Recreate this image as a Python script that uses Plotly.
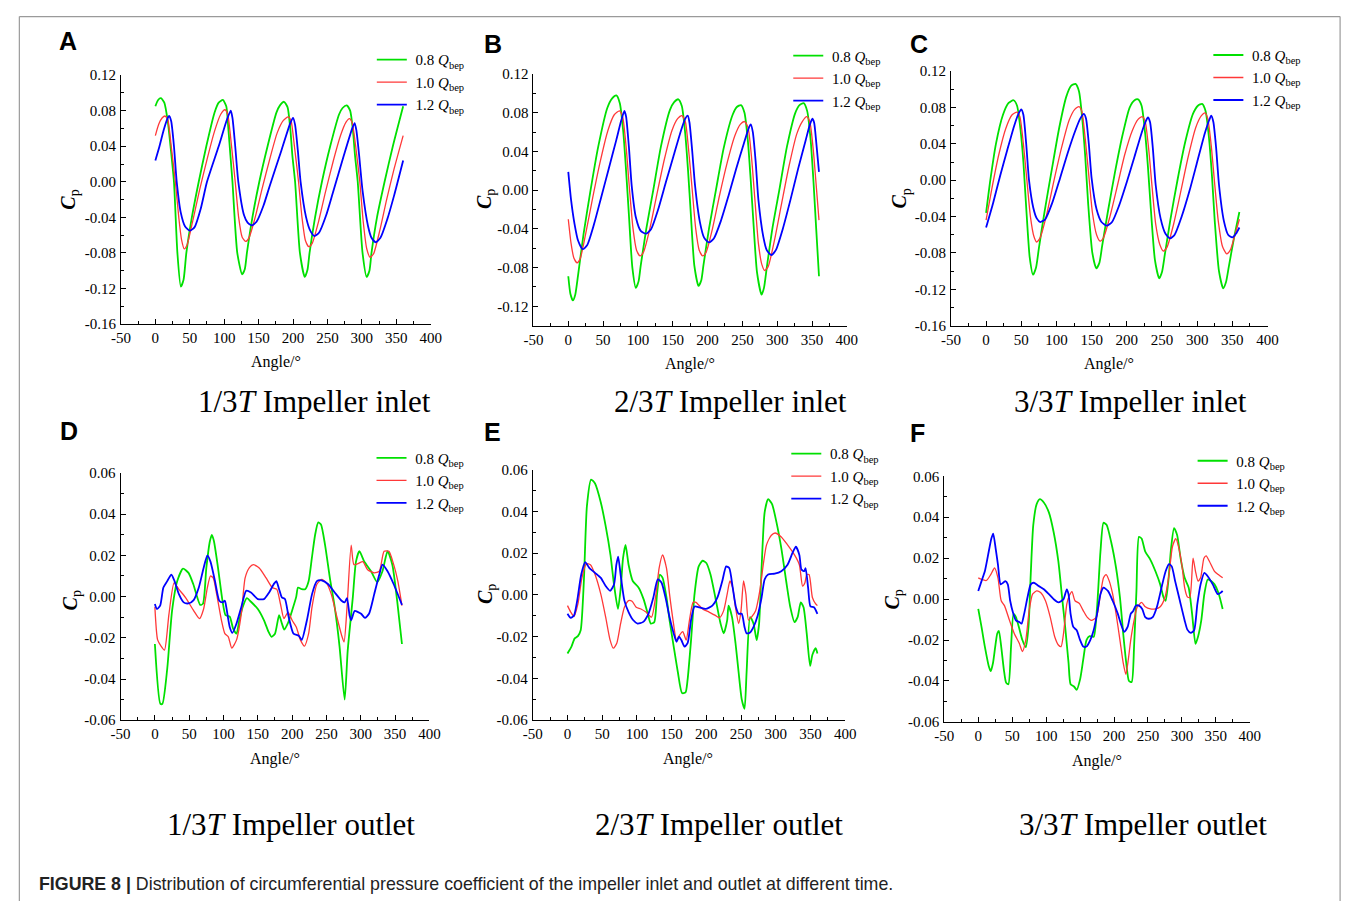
import plotly.graph_objects as go

W, H = 1357, 909

# ---------------- data ----------------
# Panel A : 1/3T impeller inlet
A_x_08 = [0,4,8,13,18,22,27,32,37,41,45,53,63,74,86,92,98,103,106,109,112,119,126,130,133,141,151,163,176,181,187,192,196,199,203,210,217,221,224,232,242,254,267,272,278,283,287,290,294,301,307,311,314,322,333,345,360]
A_y_08 = [0.085,0.092,0.094,0.089,0.068,0.040,0.000,-0.080,-0.118,-0.110,-0.080,-0.040,0.000,0.040,0.078,0.089,0.092,0.085,0.060,0.030,0.000,-0.080,-0.104,-0.098,-0.080,-0.040,0.000,0.040,0.078,0.086,0.090,0.084,0.060,0.030,0.000,-0.080,-0.107,-0.099,-0.080,-0.040,0.000,0.040,0.076,0.083,0.086,0.080,0.058,0.030,0.000,-0.080,-0.107,-0.100,-0.080,-0.040,0.000,0.040,0.085]
A_x_10 = [0,5,10,14,18,23,29,34,38,42,46,54,64,75,86,95,101,105,110,116,121,126,131,136,145,155,166,177,186,193,197,202,208,213,218,223,228,237,247,258,269,277,282,286,291,297,302,307,312,317,326,336,347,360]
A_y_10 = [0.052,0.065,0.072,0.074,0.070,0.040,0.000,-0.040,-0.065,-0.0755,-0.071,-0.045,-0.010,0.025,0.057,0.076,0.081,0.076,0.045,0.000,-0.040,-0.062,-0.067,-0.063,-0.040,-0.008,0.025,0.055,0.069,0.073,0.069,0.040,0.000,-0.040,-0.066,-0.073,-0.069,-0.045,-0.012,0.022,0.052,0.067,0.071,0.066,0.040,0.000,-0.045,-0.075,-0.085,-0.081,-0.055,-0.020,0.015,0.052]
A_x_12 = [0,6,12,17,20,23,27,31,37,43,50,57,66,75,92,104,109.5,112,116,120.5,129,134,140,147,157,166,183,196,200,203,207,211,219,225,231,238,248,258,274,286,289.5,292,296,301,309,314,320,327,337,347,360]
A_y_12 = [0.024,0.040,0.058,0.070,0.074,0.068,0.040,0.000,-0.035,-0.050,-0.055,-0.051,-0.030,0.000,0.040,0.070,0.080,0.072,0.040,0.000,-0.038,-0.046,-0.049,-0.045,-0.027,-0.005,0.035,0.066,0.072,0.064,0.035,0.000,-0.040,-0.055,-0.061,-0.057,-0.038,-0.012,0.030,0.060,0.066,0.058,0.030,-0.010,-0.050,-0.063,-0.068,-0.063,-0.042,-0.015,0.024]

# Panel B : 2/3T impeller inlet
B_x_08 = [0,3,6.6,10,14,22,32,43,56,63,69,74,79,83,87,92,97,101,104,112,122,133,146,152,158,163,168,172,176,181,187,191,194,202,212,223,236,242,248,253,258,262,266,271,277.5,281,285,293,303,314,326,332,338,343,348,352,356,360]
B_y_08 = [-0.089,-0.107,-0.114,-0.108,-0.088,-0.045,0.000,0.045,0.085,0.095,0.098,0.090,0.060,0.020,-0.025,-0.080,-0.101,-0.094,-0.078,-0.040,0.000,0.045,0.083,0.091,0.094,0.087,0.058,0.020,-0.025,-0.078,-0.099,-0.093,-0.078,-0.040,0.000,0.043,0.078,0.086,0.088,0.080,0.050,0.010,-0.035,-0.085,-0.108,-0.101,-0.080,-0.040,0.000,0.045,0.080,0.088,0.090,0.082,0.052,0.010,-0.040,-0.089]
B_x_10 = [0,4,8,12.7,17,25,35,46,57,66,73.5,78,83,88,93,98,103,108,117,127,138,149,157,163,168,173,178,183,188,193,198,207,217,228,239,247,253,258,263,268,273,278,282,287,296,306,317,328,336,342.5,347,352,356,360]
B_y_10 = [-0.030,-0.055,-0.070,-0.075,-0.071,-0.045,-0.008,0.030,0.062,0.078,0.082,0.076,0.045,0.000,-0.040,-0.062,-0.068,-0.064,-0.040,-0.005,0.032,0.062,0.074,0.077,0.071,0.040,0.000,-0.040,-0.062,-0.068,-0.064,-0.040,-0.006,0.028,0.056,0.068,0.071,0.065,0.035,-0.010,-0.055,-0.077,-0.083,-0.079,-0.052,-0.015,0.025,0.058,0.071,0.076,0.070,0.040,0.005,-0.031]
B_x_12 = [0,4,9,14,20.7,27,37,47,58,69,76,80.6,83,87,91,97,104,111.7,119,129,140,151,162,168,171.5,174,178,182,189,195,202,209,219,230,241,252,259,262,265,269,273,280,285,291.6,298,308,319,330,341,347,350.5,353,356,360]
B_y_12 = [0.019,-0.010,-0.035,-0.052,-0.061,-0.057,-0.035,-0.008,0.022,0.052,0.072,0.082,0.076,0.045,0.005,-0.028,-0.042,-0.045,-0.040,-0.020,0.008,0.035,0.062,0.074,0.077,0.070,0.040,0.005,-0.033,-0.049,-0.054,-0.050,-0.032,-0.006,0.022,0.048,0.064,0.068,0.060,0.030,-0.010,-0.048,-0.062,-0.067,-0.062,-0.040,-0.010,0.022,0.052,0.068,0.074,0.070,0.050,0.019]

# Panel C : 3/3T impeller inlet
C_x_08 = [0,6,14,24,32,39,44,49,53,57,62,66.7,71,75,83,93,104,114,121,127,132,137,141,145,151,156.6,161,165,173,183,194,204,211,216,221,226,230,234,240,246,250,254,262,272,283,294,301,307,312,317,321,325,331,337,341,345,352,360]
C_y_08 = [-0.036,0.000,0.040,0.072,0.085,0.088,0.082,0.055,0.020,-0.030,-0.085,-0.104,-0.096,-0.075,-0.035,0.010,0.058,0.092,0.104,0.106,0.098,0.065,0.025,-0.025,-0.080,-0.097,-0.091,-0.072,-0.035,0.008,0.050,0.080,0.088,0.089,0.082,0.052,0.015,-0.030,-0.088,-0.108,-0.101,-0.082,-0.043,0.000,0.042,0.073,0.082,0.084,0.076,0.045,0.005,-0.045,-0.100,-0.119,-0.112,-0.095,-0.065,-0.035]
C_x_10 = [0,8,18,28,37,44,48,53,58,63,68,71.8,77,86,96,107,118,126,132,136,141,146,151,157,162,167,176,186,197,208,216,222,226,231,236,241,247,252,257,266,276,287,298,306,311,315,320,325,330,336,342,347,353,360]
C_y_10 = [-0.044,-0.010,0.028,0.057,0.072,0.075,0.070,0.040,0.000,-0.040,-0.062,-0.068,-0.063,-0.038,-0.002,0.035,0.066,0.078,0.081,0.076,0.045,0.005,-0.035,-0.060,-0.067,-0.063,-0.040,-0.008,0.028,0.055,0.067,0.070,0.065,0.035,-0.008,-0.048,-0.071,-0.078,-0.074,-0.050,-0.015,0.025,0.058,0.071,0.074,0.068,0.038,-0.005,-0.045,-0.073,-0.081,-0.077,-0.062,-0.043]
C_x_12 = [0,10,20,30,40,46,50,53,57,61,67,72,77,84,94,105,116,127,134,139,142,146,150,157,164,171.6,179,189,200,211,221,227,230,233,237,241,248,255,261.5,268,278,289,300,311,317,320,323,327,331,338,344,350,355,360]
C_y_12 = [-0.052,-0.025,0.005,0.033,0.060,0.073,0.078,0.072,0.040,0.000,-0.030,-0.042,-0.046,-0.043,-0.025,0.002,0.030,0.055,0.068,0.073,0.068,0.040,0.002,-0.032,-0.046,-0.050,-0.046,-0.028,-0.002,0.026,0.052,0.065,0.069,0.064,0.035,-0.005,-0.042,-0.059,-0.064,-0.060,-0.040,-0.012,0.020,0.052,0.066,0.071,0.064,0.035,-0.005,-0.045,-0.060,-0.063,-0.059,-0.052]

# Panel D : 1/3T impeller outlet
D_x_08 = [0,8,11,18,25,32.5,41,49,56,66,70,75,80,83,86,92,98.5,103,109,114,119,123,128,134,140,150,159,165.5,170,175,181,185,188.5,194,200,206,208.6,214,219,224,228.7,233.5,238,242,248,255,262,269,276.5,281,288.5,293,298,305,315,324,331.6,339,346,353,360]
D_y_08 = [-0.023,-0.052,-0.052,-0.035,-0.007,0.0075,0.0136,0.0115,0.006,-0.004,-0.0035,0.014,0.0266,0.030,0.027,0.014,-0.002,-0.009,-0.0097,-0.0155,-0.018,-0.0115,-0.005,-0.0007,-0.0025,-0.006,-0.0115,-0.017,-0.0195,-0.018,-0.009,-0.013,-0.016,-0.0128,-0.0067,0.0,0.0044,0.0036,0.0036,0.0075,0.0187,0.030,0.036,0.035,0.025,0.009,-0.005,-0.024,-0.050,-0.026,0.0,0.017,0.022,0.017,0.0123,0.007,0.0123,0.022,0.0155,-0.002,-0.023]
D_x_10 = [0,4,9,14,20.5,28,35,44.5,56.5,65,71,76.5,81,85,90,97,102,107,112,119,126,131.5,138,143.5,152,162,171,177.5,183,188,194,200,206,212,218,224,229,236,243,250,257,264,272,275.6,280,286,290,296,303,310,319.6,327,334,341,348,354,360]
D_y_10 = [-0.005,-0.021,-0.024,-0.026,-0.0085,0.0067,0.0035,-0.0004,-0.0068,-0.0107,-0.006,0.0044,0.010,0.0091,0.0012,-0.0115,-0.018,-0.0195,-0.025,-0.021,-0.0083,0.0091,0.0142,0.0155,0.0139,0.0091,0.0044,0.0036,-0.0036,-0.0107,-0.0075,-0.0115,-0.0147,-0.021,-0.024,-0.018,-0.005,0.006,0.0083,0.0067,0.0012,-0.0083,-0.0187,-0.022,-0.005,0.025,0.0155,0.016,0.017,0.013,0.0115,0.0123,0.022,0.022,0.0155,0.0075,-0.0044]
D_x_12 = [0,3,7.7,12.4,18,24,28.7,35,42,49,56.5,64,71,76.5,81,87.6,93.8,98.5,102,104,109,113,119,126,133,140,150,159,166.5,173.7,177,181,185,189.5,195,202,209.6,214,221.5,229,236,243,252.6,262,272,276.6,280,283.7,286,291,296,300.5,306,312,319.6,327,331.6,339,348,360]
D_y_12 = [-0.0036,-0.006,-0.0044,0.0044,0.0075,0.0107,0.0075,0.0012,-0.0028,-0.0033,-0.0017,0.0044,0.0139,0.020,0.017,0.0075,-0.002,-0.0028,-0.002,-0.005,-0.0147,-0.0176,-0.013,-0.005,0.0028,0.002,-0.0012,-0.0012,0.002,0.0063,0.0075,0.0036,-0.0004,-0.0012,-0.010,-0.018,-0.019,-0.021,-0.0115,0.0012,0.0075,0.0079,0.006,0.002,-0.002,-0.0028,-0.0007,-0.0092,-0.0115,-0.007,-0.0075,-0.0083,-0.0103,-0.0083,0.0012,0.0107,0.0155,0.0123,0.006,-0.004]

# Panel E : 2/3T impeller outlet
E_x_08 = [0,5.7,10.4,15,19,23.6,28,34,39.7,48,55,62,67,72.7,76.5,80,83.6,88,94,102.5,109.6,115.7,120,125,129,133,137,142.6,147,153,159,165,170,173,178,183,189,194.6,200,206,213,220.5,225,230,232,237,242,246.5,251,255,258,263,268,272.5,276,279.6,284,289,294.7,301,308,315,321,327,331.5,336,340,344.6,349.5,352.8,357.5,360]
E_y_08 = [-0.028,-0.0247,-0.0208,-0.0197,-0.0169,0.0067,0.0427,0.0553,0.0534,0.0443,0.033,0.019,0.005,-0.0067,0.0027,0.0176,0.024,0.0145,0.0067,0.0035,-0.002,-0.009,-0.0137,-0.013,0.0004,0.0098,0.0082,-0.0012,-0.012,-0.0247,-0.037,-0.047,-0.0467,-0.0406,-0.0216,0.0004,0.0137,0.0164,0.0153,0.0098,-0.0012,-0.0137,-0.0184,-0.0122,-0.0051,-0.0106,-0.023,-0.037,-0.050,-0.0545,-0.037,-0.0106,-0.0137,-0.0216,-0.0137,0.013,0.0396,0.0459,0.0435,0.0349,0.0224,0.0067,-0.0059,-0.013,-0.0106,-0.0035,-0.0059,-0.0184,-0.034,-0.0286,-0.0255,-0.028]
E_x_10 = [0,4.7,9.4,15,20.8,27,33,39.7,48,55,61.4,66,71,76.5,82,88,93,99,105.8,113,121,127.5,132,137,142.6,147,152,157,161.5,166,171,175.7,181,185,194.6,204,213,219,225,230,234,238,242,246.5,250,253.6,257,260.7,265,271,277,282,286.7,293.7,299,308,317,327,334,338.6,342,344.7,348,352.8,357.5,360]
E_y_10 = [-0.0051,-0.0082,-0.0103,-0.0043,0.0082,0.0149,0.0145,0.0098,0.0004,-0.0106,-0.0216,-0.0255,-0.0231,-0.0137,-0.0059,-0.0027,-0.003,-0.0059,-0.0067,-0.0082,-0.0106,0.0004,0.0129,0.0192,0.0129,0.0004,-0.012,-0.0216,-0.0192,-0.0176,-0.0216,-0.012,-0.0035,-0.0035,-0.0067,-0.0082,-0.0098,-0.0109,-0.0075,0.0004,0.0067,0.0035,-0.0059,-0.0137,-0.0075,0.0067,0.0004,-0.012,-0.0106,-0.0075,0.002,0.0145,0.024,0.0286,0.0297,0.0278,0.024,0.0192,0.0145,0.0043,0.0059,0.0098,0.0098,-0.0012,-0.0043,-0.0051]
E_x_12 = [0,4.7,9.4,14,19.8,25.5,31.6,39.7,48,55,61.4,67,70.4,73,76.5,82,88,94.5,101,108.6,116.6,123.7,130,135.5,141.7,147,153,157,160.6,164,168.6,173,178,183,190,199,208.7,216,223,228.6,233,238,242.7,246.5,251,255,258,263,268,274,279.6,284,289,298.5,308,317,324,329,334,337,341,343,346.6,350,355,360]
E_y_12 = [-0.009,-0.011,-0.0098,-0.0027,0.0098,0.0157,0.0129,0.0106,0.0082,0.0043,0.002,0.005,0.0145,0.0184,0.0098,-0.0027,-0.0082,-0.012,-0.0137,-0.013,-0.009,-0.0012,0.0075,0.0059,-0.002,-0.0106,-0.0184,-0.0224,-0.020,-0.0216,-0.0247,-0.0231,-0.012,-0.0055,-0.0059,-0.0067,-0.0051,-0.0012,0.0067,0.0137,0.0129,0.0035,-0.0059,-0.009,-0.009,-0.0153,-0.0184,-0.018,-0.0153,-0.0098,-0.0012,0.0075,0.0098,0.0102,0.0114,0.0145,0.020,0.0231,0.0192,0.0122,0.0114,0.0129,0.0035,-0.0055,-0.0059,-0.009]

# Panel F : 3/3T impeller outlet
F_x_08 = [0,4.8,9.7,15.5,18.4,21.7,25,28,30.4,33.8,37.7,41,44.4,48.3,52,55.5,60.4,65,70,74,77.3,81,86,90.8,96.6,104,111,118,123,128,133,136,141,145,150,154.6,159.4,164,170,175,180,184.5,189,195.7,203,208.7,213.5,218,222,226,229.5,233,236.7,240.6,246,253.6,261,268,273,276,280,284,288.4,293,298,304,310,315,320,323.7,328.5,333,338,343,348,353.6,360]
F_y_08 = [-0.0048,-0.0136,-0.0232,-0.0328,-0.0352,-0.0312,-0.0232,-0.0168,-0.0155,-0.0232,-0.0344,-0.0408,-0.0416,-0.0232,-0.0072,-0.0088,-0.0144,-0.020,-0.0235,-0.0136,0.012,0.036,0.0464,0.0488,0.0472,0.0424,0.0328,0.0184,0.0024,-0.0136,-0.0312,-0.0416,-0.0427,-0.0443,-0.0392,-0.0296,-0.020,-0.0181,-0.0184,-0.004,0.0232,0.0373,0.0363,0.028,0.0152,0.0008,-0.0168,-0.0312,-0.040,-0.0405,-0.0232,0.004,0.0304,0.0296,0.0232,0.0192,0.0136,0.0072,0.0008,-0.0008,0.0088,0.0248,0.0347,0.0312,0.020,0.0104,0.0056,-0.0072,-0.0219,-0.0184,-0.0104,0.0024,0.0096,0.0088,0.0072,0.0032,-0.0048]
F_x_10 = [0,4.8,12,18.4,24,29,33.8,38.6,46,53,60.4,65,70,75,80,86,91.8,99,106,112.6,118,122,125.6,130.4,134,138,142.5,148.8,154.6,160.4,166.7,174,180,184.5,188.4,193,198,203,208.7,213.5,217.4,221,224.6,229.5,234,240.6,246,253.6,261,268,275,281,286,291,295.6,300.5,304,308,311.6,316.4,320,323.7,327.5,332.4,335.7,340.6,348,353.6,360]
F_y_10 = [0.0104,0.0096,0.0091,0.012,0.0152,0.0104,-0.0008,-0.0032,-0.0104,-0.0168,-0.0216,-0.0256,-0.020,-0.0056,0.0024,0.004,0.0032,-0.0008,-0.0088,-0.0184,-0.0224,-0.0232,-0.0168,-0.0024,0.0016,0.0037,-0.0008,-0.0021,-0.0056,-0.0088,-0.0104,-0.0088,0.0024,0.0104,0.012,0.0088,0.0024,-0.0072,-0.020,-0.0312,-0.0368,-0.0296,-0.020,-0.0104,-0.004,-0.0016,-0.0037,-0.0048,-0.0048,-0.0037,0.0008,0.012,0.0256,0.0296,0.0248,0.0152,0.0056,0.0011,0.0008,0.020,0.0136,0.0088,0.0104,0.020,0.0211,0.0184,0.0136,0.012,0.0104]
F_x_12 = [0,4.8,9.7,14.5,19.3,22,25.6,29,32.9,36.7,40,43.5,47,51,55.5,60.4,63.8,67.6,72.5,77.3,82,89,96.6,104,111,118,125.6,130.4,133,136,140,145,150,154.6,159.4,165,170,175,180,184.5,191,198,205.6,210,215,220,224.6,228,232,236.7,241.5,246,251,257,263,270.5,276,281,285,290,297,304,308,313,318,322.7,327.5,333,338,345.4,352.7,357.5,360]
F_y_12 = [0.004,0.0088,0.0136,0.0216,0.0296,0.032,0.0248,0.0168,0.0072,0.008,0.0088,0.0072,-0.0008,-0.0064,-0.0104,-0.0112,-0.012,-0.0072,0.0008,0.0072,0.008,0.0064,0.0048,0.0024,0.0,-0.0016,0.0,0.0048,0.0024,-0.0072,-0.0136,-0.0152,-0.020,-0.0232,-0.0232,-0.020,-0.0152,-0.0072,0.0024,0.0056,0.004,-0.0008,-0.0072,-0.012,-0.016,-0.0136,-0.0072,-0.0059,-0.0032,-0.0032,-0.0048,-0.0088,-0.0096,-0.0088,-0.004,0.0064,0.0136,0.0171,0.016,0.0088,-0.0008,-0.0104,-0.0149,-0.0165,-0.0152,-0.0024,0.0072,0.0128,0.0112,0.0072,0.0024,0.0032,0.004]

series_names = ["\u00a00.8 <i>Q</i><sub>bep</sub>", "\u00a01.0 <i>Q</i><sub>bep</sub>", "\u00a01.2 <i>Q</i><sub>bep</sub>"]
panel_letters = ["A", "B", "C", "D", "E", "F"]
panel_titles = ["1/3<i>T</i> Impeller inlet", "2/3<i>T</i> Impeller inlet", "3/3<i>T</i> Impeller inlet",
                "1/3<i>T</i> Impeller outlet", "2/3<i>T</i> Impeller outlet", "3/3<i>T</i> Impeller outlet"]
x_ticks = [-50, 0, 50, 100, 150, 200, 250, 300, 350, 400]
y_ticks_top = [-0.16, -0.12, -0.08, -0.04, 0.00, 0.04, 0.08, 0.12]
y_ticks_topB = [-0.12, -0.08, -0.04, 0.00, 0.04, 0.08, 0.12]
y_ticks_bot = [-0.06, -0.04, -0.02, 0.00, 0.02, 0.04, 0.06]
caption = "<b>FIGURE 8 |</b> Distribution of circumferential pressure coefficient of the impeller inlet and outlet at different time."

panels = [
    (A_x_08, A_y_08, A_x_10, A_y_10, A_x_12, A_y_12),
    (B_x_08, B_y_08, B_x_10, B_y_10, B_x_12, B_y_12),
    (C_x_08, C_y_08, C_x_10, C_y_10, C_x_12, C_y_12),
    (D_x_08, D_y_08, D_x_10, D_y_10, D_x_12, D_y_12),
    (E_x_08, E_y_08, E_x_10, E_y_10, E_x_12, E_y_12),
    (F_x_08, F_y_08, F_x_10, F_y_10, F_x_12, F_y_12),
]

# ---------------- layout geometry (pixels) ----------------
boxes = [(112.7, 427.3, 68.3, 321.7), (531.7, 850.0, 67.3, 323.3), (955.7, 1277.3, 64.3, 323.3),
         (112.3, 426.0, 473.3, 725.0), (531.0, 848.3, 470.0, 725.0), (949.0, 1259.3, 476.7, 726.7)]
y_ranges = [[-0.16, 0.12], [-0.14, 0.12], [-0.16, 0.12], [-0.06, 0.06], [-0.06, 0.06], [-0.06, 0.06]]
y_tick_sets = [y_ticks_top, y_ticks_topB, y_ticks_top, y_ticks_bot, y_ticks_bot, y_ticks_bot]
y_minor = [0.02, 0.02, 0.02, 0.01, 0.01, 0.01]
legend_pos = [(373, 50.7), (796, 46.7), (1222.7, 46), (372.7, 456), (794, 451.7), (1206.7, 459)]
letter_pos = [(59, 34), (490.5, 36.5), (923.5, 36.7), (59.5, 431), (490, 431.5), (922, 433)]
title_pos = [(309.5, 401), (732, 401), (1138.5, 401), (285.5, 831), (720, 831), (1151, 831)]
angle_pos = [(270, 360), (691, 362), (1116, 362), (269, 764), (689, 764), (1104, 766)]
cp_pos = [(60, 195), (483, 195), (905, 194), (62, 603), (484, 597), (897, 602)]

colors = ["#00e000", "#ff3838", "#0000ff"]
widths = [1.8, 1.3, 1.8]

SERIF = "Liberation Serif, Times New Roman, serif"
SANS = "Liberation Sans, Arial, sans-serif"

def px(x):
    return x / W

def py(y):
    return 1 - y / H

fig = go.Figure()
layout = dict(width=W, height=H, margin=dict(l=0, r=0, t=0, b=0), autosize=False,
              paper_bgcolor="white", plot_bgcolor="white", showlegend=True)
annotations = []

for i, data in enumerate(panels):
    n = i + 1
    xa = "x" if n == 1 else f"x{n}"
    ya = "y" if n == 1 else f"y{n}"
    lg = "legend" if n == 1 else f"legend{n}"
    for k in range(3):
        fig.add_trace(go.Scatter(
            x=data[2 * k], y=data[2 * k + 1], mode="lines", name=series_names[k],
            line=dict(color=colors[k], width=widths[k], shape="spline", smoothing=0.6),
            xaxis=xa, yaxis=ya, legend=lg, hoverinfo="skip"))
    l, r, t, b = boxes[i]
    axis_common = dict(showline=True, linecolor="black", linewidth=1, showgrid=False, zeroline=False,
                       ticks="inside", ticklen=5, tickwidth=1, tickcolor="black",
                       tickfont=dict(family=SERIF, size=15, color="black"), fixedrange=True)
    layout["xaxis" if n == 1 else f"xaxis{n}"] = dict(
        axis_common, domain=[px(l), px(r)], range=[-50, 400], anchor=ya,
        tickvals=x_ticks, ticktext=[str(v) for v in x_ticks],
        minor=dict(ticks="inside", ticklen=3, tickwidth=1, tickcolor="black", dtick=25, tick0=-50),
        ticklabelstandoff=0)
    yt = y_tick_sets[i]
    layout["yaxis" if n == 1 else f"yaxis{n}"] = dict(
        axis_common, domain=[py(b), py(t)], range=y_ranges[i], anchor=xa,
        tickvals=yt, ticktext=["%.2f" % v for v in yt],
        minor=dict(ticks="inside", ticklen=3, tickwidth=1, tickcolor="black", dtick=y_minor[i], tick0=0),
        ticklabelstandoff=1)
    lx, ly = legend_pos[i]
    layout[lg] = dict(x=px(lx - 5.5), y=py(ly - 14.7), xanchor="left", yanchor="top",
                      bgcolor="rgba(0,0,0,0)", borderwidth=0, tracegroupgap=0,
                      font=dict(family=SERIF, size=15, color="black"), itemwidth=30)
    annotations.append(dict(text=f"<b>{panel_letters[i]}</b>", x=px(letter_pos[i][0]), y=py(letter_pos[i][1]),
                            xref="paper", yref="paper", xanchor="center", yanchor="middle", showarrow=False,
                            font=dict(family=SANS, size=25, color="black")))
    annotations.append(dict(text=panel_titles[i], x=px(title_pos[i][0]), y=py(title_pos[i][1]),
                            xref="paper", yref="paper", xanchor="center", yanchor="middle", showarrow=False,
                            font=dict(family=SERIF, size=31, color="black")))
    annotations.append(dict(text="Angle/°", x=px(angle_pos[i][0]), y=py(angle_pos[i][1]),
                            xref="paper", yref="paper", xanchor="center", yanchor="middle", showarrow=False,
                            font=dict(family=SERIF, size=16, color="black")))
    annotations.append(dict(text="<b><i>C</i></b><sub>p</sub>", x=px(cp_pos[i][0]), y=py(cp_pos[i][1]),
                            xref="paper", yref="paper", xanchor="center", yanchor="middle", showarrow=False,
                            textangle=-90, font=dict(family=SERIF, size=20, color="black")))

annotations.append(dict(text=caption, x=px(27), y=py(892), xref="paper", yref="paper",
                        xanchor="left", yanchor="middle", showarrow=False,
                        font=dict(family=SANS, size=17.8, color="#222")))
layout["annotations"] = annotations
border = dict(color="#9a9a9a", width=1.2)
layout["shapes"] = [
    dict(type="line", xref="paper", yref="paper", x0=px(9.5), x1=px(9.5), y0=py(8.7), y1=0, line=border),
    dict(type="line", xref="paper", yref="paper", x0=px(9.5), x1=px(1351), y0=py(8.7), y1=py(8.7), line=border),
    dict(type="line", xref="paper", yref="paper", x0=px(1351), x1=px(1351), y0=py(8.7), y1=0, line=border),
]

fig.update_layout(**layout)
fig.write_html("out.html", config={"displayModeBar": False},
               post_script="document.body.style.margin='0';document.body.style.overflow='hidden';")
